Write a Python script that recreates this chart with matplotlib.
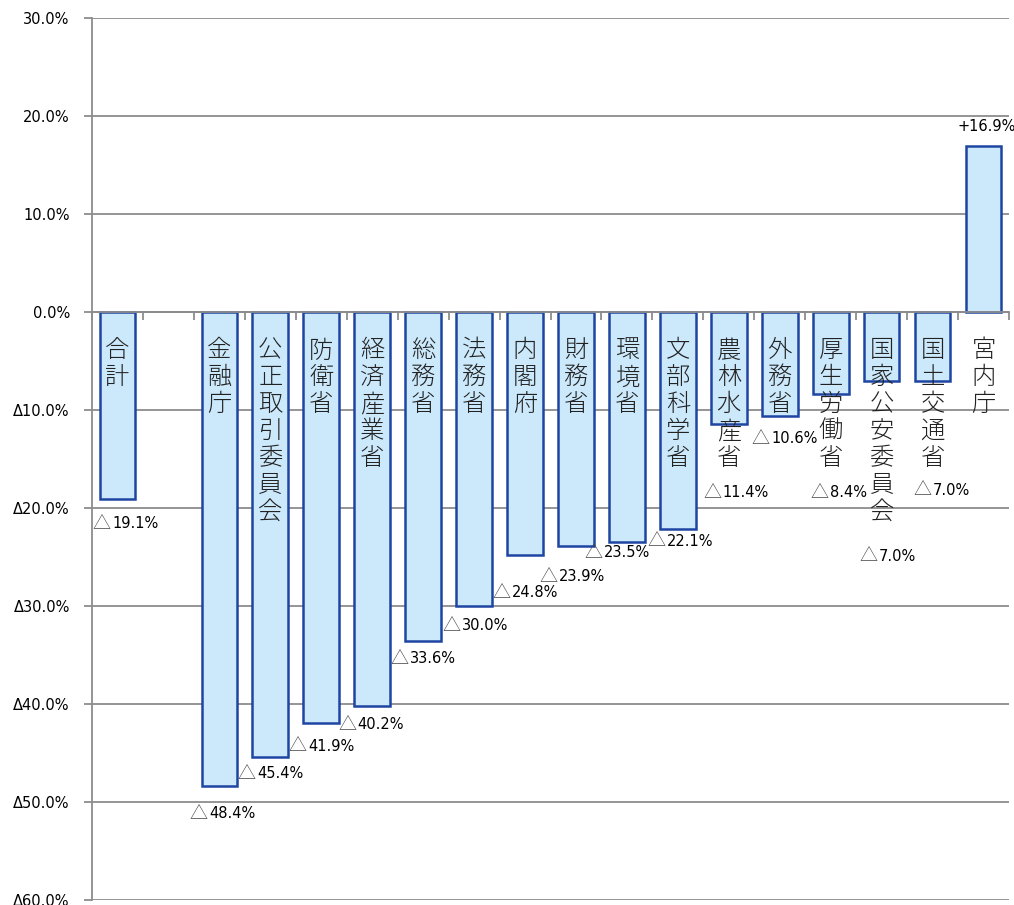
import matplotlib
matplotlib.use('Agg')
import matplotlib.pyplot as plt
from matplotlib.ticker import FuncFormatter, FixedLocator
from matplotlib.offsetbox import TextArea, HPacker, AnnotationBbox
import numpy as np

# データ（前年度比 増減率 %）
categories = ['合計', '', '金融庁', '公正取引委員会', '防衛省', '経済産業省', '総務省',
              '法務省', '内閣府', '財務省', '環境省', '文部科学省', '農林水産省',
              '外務省', '厚生労働省', '国家公安委員会', '国土交通省', '宮内庁']
values = [-19.1, np.nan, -48.4, -45.4, -41.9, -40.2, -33.6, -30.0, -24.8, -23.9,
          -23.5, -22.1, -11.4, -10.6, -8.4, -7.0, -7.0, 16.9]
yticks = [30, 20, 10, 0, -10, -20, -30, -40, -50, -60]

# ラベル位置の微調整（ピクセル）: x方向, バー端からの距離
label_dx = [8, 0, 3, 0, 0, -1, 0, 1, 0, -4, -10, 3, 7, 5, 8, 6, 9, 3]
label_dy = [24, 0, 27, 16, 23, 18, 17, 19, 37, 30, 10, 12, 68, 22, 98, 175, 109, 20]

GRAY = '#8c8c8c'

fig = plt.figure(figsize=(10.14, 9.05), dpi=100)
ax = fig.add_axes([92 / 1014, 1 - 900 / 905, (1009 - 92) / 1014, (900 - 18) / 905])

x = np.arange(len(categories))
ax.bar(x, values, width=0.7, color='#cce9fc', edgecolor='#1f45a3', linewidth=1.8, zorder=2)

ax.set_xlim(-0.5, len(categories) - 0.5)
ax.set_ylim(-60, 30)

ax.set_axisbelow(True)
ax.yaxis.set_major_locator(FixedLocator(yticks))
ax.grid(axis='y', color=GRAY, linewidth=1.3)
ax.yaxis.set_major_formatter(FuncFormatter(
    lambda v, p: '%.1f%%' % v if v >= 0 else 'Δ%.1f%%' % -v))
ax.tick_params(axis='y', length=6, width=1.3, color=GRAY, labelsize=10.5, pad=10)

ax.spines['top'].set_visible(False)
ax.spines['right'].set_visible(False)
ax.spines['left'].set_color(GRAY)
ax.spines['left'].set_linewidth(1.3)
ax.spines['bottom'].set_position(('data', 0))
ax.spines['bottom'].set_color(GRAY)
ax.spines['bottom'].set_linewidth(1.3)
ax.spines['bottom'].set_zorder(3)
ax.set_xticks(np.arange(len(categories) + 1) - 0.5)
ax.set_xticklabels([])
ax.tick_params(axis='x', length=6, width=1.3, color=GRAY, direction='out')

# 省庁名（縦書き）
for i, name in enumerate(categories):
    if not name:
        continue
    ax.text(i, -2.7, '\n'.join(name), ha='center', va='top', fontsize=17.5,
            family=['Noto Sans CJK JP'], fontweight='light', color='#222222',
            linespacing=1.1, zorder=4)

# 数値ラベル（△は全角記号）
for i, v in enumerate(values):
    if np.isnan(v):
        continue
    if v < 0:
        parts = [TextArea('△', textprops=dict(fontsize=13, family=['Noto Sans CJK JP'],
                                               fontweight='light', color='#444444')),
                 TextArea('%.1f%%' % -v, textprops=dict(fontsize=10.5, family=['DejaVu Sans']))]
        dy = -label_dy[i]
    else:
        parts = [TextArea('+%.1f%%' % v, textprops=dict(fontsize=10.5, family=['DejaVu Sans']))]
        dy = label_dy[i]
    box = HPacker(children=parts, align='baseline', pad=0, sep=1)
    ab = AnnotationBbox(box, (i, v), xybox=(label_dx[i] * 0.72, dy * 0.72),
                        boxcoords='offset points', frameon=False, box_alignment=(0.5, 0.5),
                        zorder=4)
    ax.add_artist(ab)

fig.savefig('out.png', dpi=100)
